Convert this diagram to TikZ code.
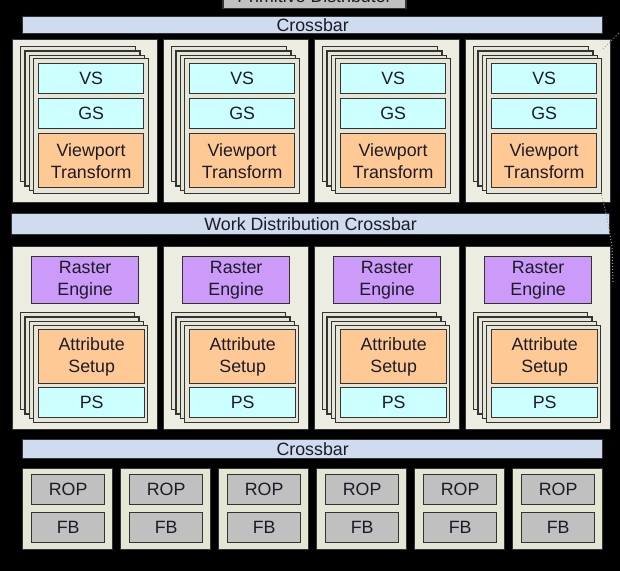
\documentclass[tikz,border=0pt]{standalone}
\usepackage{fontspec}
\setmainfont{Liberation Sans}
\usepackage{tikz}
\usepackage{color}

\definecolor{linecol}{HTML}{333333}
\definecolor{textcol}{HTML}{1C1C28}
\definecolor{gpcfill}{HTML}{ECECE0}
\definecolor{ropbay}{HTML}{E2E6D2}
\definecolor{sheetfill}{HTML}{E6E6D8}
\definecolor{barfill}{HTML}{CFDBEE}
\definecolor{cyanfill}{HTML}{CCFFFF}
\definecolor{peachfill}{HTML}{FFC996}
\definecolor{lilacfill}{HTML}{CC9AF8}
\definecolor{greyfill}{HTML}{C0C0C0}

\tikzset{
  unit/.style={draw=linecol, line width=1.3pt, inner sep=0pt, anchor=north west,
    text=textcol, align=center, font=\fontsize{17.8}{22}\selectfont},
  gpctop/.style={unit, fill=gpcfill, minimum width=145pt, minimum height=163pt},
  gpcbot/.style={unit, fill=gpcfill, minimum width=145pt, minimum height=183pt},
  sheettop/.style={unit, fill=sheetfill, minimum width=115pt, minimum height=135pt},
  sheetbot/.style={unit, fill=sheetfill, minimum width=114pt, minimum height=97pt},
  shader/.style={unit, fill=cyanfill, minimum width=105pt, minimum height=30pt},
  viewport/.style={unit, fill=peachfill, minimum width=105pt, minimum height=54pt},
  raster/.style={unit, fill=lilacfill, minimum width=107pt, minimum height=47pt},
  ropbox/.style={unit, fill=ropbay, minimum width=90pt, minimum height=81pt},
  ropunit/.style={unit, fill=greyfill, minimum width=73pt, minimum height=30pt},
  bar/.style={unit, fill=barfill}
}

\begin{document}
\begin{tikzpicture}[x=1pt,y=-1pt]
\useasboundingbox (0,0) rectangle (620,571);
\fill[black] (0,0) rectangle (620,571);
\clip (0,0) rectangle (620,571);

\node[unit, anchor=south, fill=greyfill, minimum width=183pt, minimum height=24pt] (prim) at (314.5,9) {Primitive Distributor};
\node[bar, minimum width=580pt, minimum height=17pt] (xbarA) at (22,16) {Crossbar};

%geometry processing clusters
\node[gpctop] (gpcA) at (12,39) {};
\node[gpctop] (gpcB) at (163,39) {};
\node[gpctop] (gpcC) at (314,39) {};
\node[gpctop] (gpcD) at (465,39) {};

\node[sheettop] (stA3) at (20,46) {};
\node[sheettop] (stA2) at (24.3,50.3) {};
\node[sheettop] (stA1) at (28.6,54.6) {};
\node[sheettop] (stA0) at (33,58) {};
\node[sheettop] (stB3) at (171,46) {};
\node[sheettop] (stB2) at (175.3,50.3) {};
\node[sheettop] (stB1) at (179.6,54.6) {};
\node[sheettop] (stB0) at (184,58) {};
\node[sheettop] (stC3) at (322,46) {};
\node[sheettop] (stC2) at (326.3,50.3) {};
\node[sheettop] (stC1) at (330.6,54.6) {};
\node[sheettop] (stC0) at (335,58) {};
\node[sheettop] (stD3) at (473,46) {};
\node[sheettop] (stD2) at (477.3,50.3) {};
\node[sheettop] (stD1) at (481.6,54.6) {};
\node[sheettop] (stD0) at (486,58) {};

\node[shader] (vsA) at (38,63) {VS};
\node[shader] (gsA) at (38,98) {GS};
\node[viewport] (vpA) at (38,133) {Viewport\\Transform};
\node[shader] (vsB) at (189,63) {VS};
\node[shader] (gsB) at (189,98) {GS};
\node[viewport] (vpB) at (189,133) {Viewport\\Transform};
\node[shader] (vsC) at (340,63) {VS};
\node[shader] (gsC) at (340,98) {GS};
\node[viewport] (vpC) at (340,133) {Viewport\\Transform};
\node[shader] (vsD) at (491,63) {VS};
\node[shader] (gsD) at (491,98) {GS};
\node[viewport] (vpD) at (491,133) {Viewport\\Transform};

\node[bar, minimum width=598pt, minimum height=21pt] (xbarW) at (11,213) {Work Distribution Crossbar};

%raster clusters
\node[gpcbot] (rcA) at (12,246) {};
\node[gpcbot] (rcB) at (163,246) {};
\node[gpcbot] (rcC) at (314,246) {};
\node[gpcbot] (rcD) at (465,246) {};

\node[raster] (reA) at (31,256) {Raster\\Engine};
\node[raster] (reB) at (182,256) {Raster\\Engine};
\node[raster] (reC) at (333,256) {Raster\\Engine};
\node[raster] (reD) at (484,256) {Raster\\Engine};

\node[sheetbot] (sbA3) at (20,312) {};
\node[sheetbot] (sbA2) at (24.3,316.3) {};
\node[sheetbot] (sbA1) at (28.6,320.6) {};
\node[sheetbot] (sbA0) at (33,325) {};
\node[sheetbot] (sbB3) at (171,312) {};
\node[sheetbot] (sbB2) at (175.3,316.3) {};
\node[sheetbot] (sbB1) at (179.6,320.6) {};
\node[sheetbot] (sbB0) at (184,325) {};
\node[sheetbot] (sbC3) at (322,312) {};
\node[sheetbot] (sbC2) at (326.3,316.3) {};
\node[sheetbot] (sbC1) at (330.6,320.6) {};
\node[sheetbot] (sbC0) at (335,325) {};
\node[sheetbot] (sbD3) at (473,312) {};
\node[sheetbot] (sbD2) at (477.3,316.3) {};
\node[sheetbot] (sbD1) at (481.6,320.6) {};
\node[sheetbot] (sbD0) at (486,325) {};

\node[viewport, minimum width=106pt] (asA) at (38,329) {Attribute\\Setup};
\node[shader, minimum width=106pt] (psA) at (38,387) {PS};
\node[viewport, minimum width=106pt] (asB) at (189,329) {Attribute\\Setup};
\node[shader, minimum width=106pt] (psB) at (189,387) {PS};
\node[viewport, minimum width=106pt] (asC) at (340,329) {Attribute\\Setup};
\node[shader, minimum width=106pt] (psC) at (340,387) {PS};
\node[viewport, minimum width=106pt] (asD) at (491,329) {Attribute\\Setup};
\node[shader, minimum width=106pt] (psD) at (491,387) {PS};

\node[bar, minimum width=580pt, minimum height=19pt] (xbarB) at (22,439) {Crossbar};

%memory partitions
\node[ropbox] (mpA) at (22,468) {};
\node[ropbox] (mpB) at (120,468) {};
\node[ropbox] (mpC) at (218,468) {};
\node[ropbox] (mpD) at (316,468) {};
\node[ropbox] (mpE) at (414,468) {};
\node[ropbox] (mpF) at (512,468) {};

\node[ropunit] (ropA) at (31,474) {ROP};
\node[ropunit] (fbA) at (31,512) {FB};
\node[ropunit] (ropB) at (129,474) {ROP};
\node[ropunit] (fbB) at (129,512) {FB};
\node[ropunit] (ropC) at (227,474) {ROP};
\node[ropunit] (fbC) at (227,512) {FB};
\node[ropunit] (ropD) at (325,474) {ROP};
\node[ropunit] (fbD) at (325,512) {FB};
\node[ropunit] (ropE) at (423,474) {ROP};
\node[ropunit] (fbE) at (423,512) {FB};
\node[ropunit] (ropF) at (521,474) {ROP};
\node[ropunit] (fbF) at (521,512) {FB};

%dotted trace on the right edge
\coordinate (dotA) at (603,49);
\coordinate (dotB) at (619,33);
\coordinate (dotC) at (601,192);
\coordinate (dotD) at (607,218);
\coordinate (dotE) at (612,246);
\coordinate (dotF) at (613,282);
\draw[dotted, line width=1pt, gray!70] (dotA) -- (dotB);
\draw[dotted, line width=1pt, gray!70] (dotC) -- (dotD) -- (dotE) -- (dotF);
\end{tikzpicture}
\end{document}
